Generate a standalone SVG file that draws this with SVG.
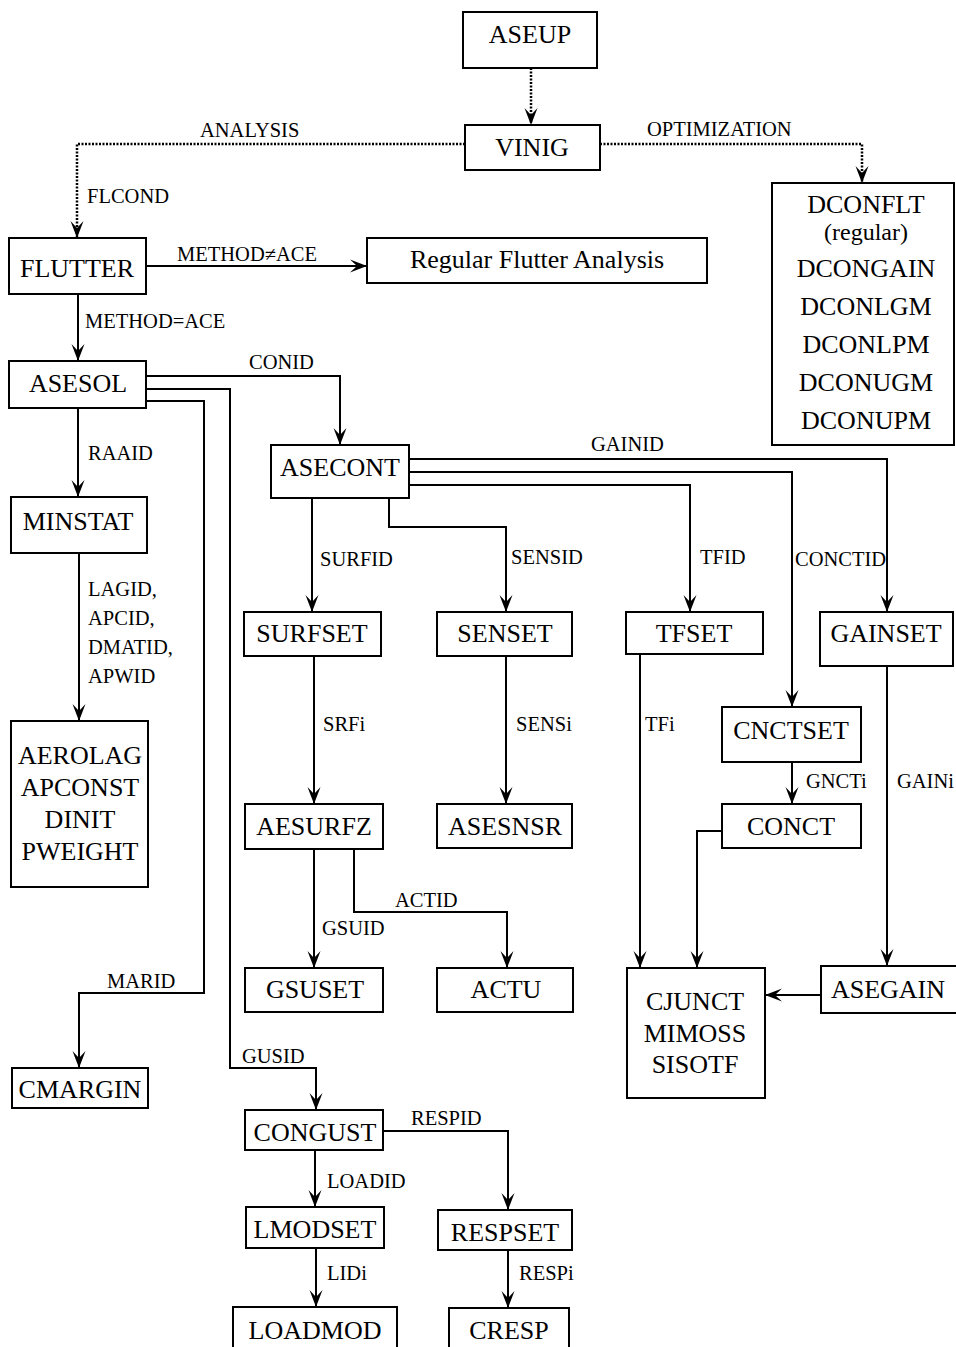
<svg xmlns="http://www.w3.org/2000/svg" width="956" height="1347" viewBox="0 0 956 1347">
<style>
.box{fill:#fff;stroke:#000;stroke-width:2}
.n{font-family:"Liberation Serif",serif;font-size:26px;fill:#000;text-anchor:middle}
.l{font-family:"Liberation Serif",serif;font-size:20.5px;fill:#000}
.c{fill:none;stroke:#000;stroke-width:2;marker-end:url(#ah)}
.d{fill:none;stroke:#000;stroke-width:2.5;stroke-dasharray:2 1.5;marker-end:url(#ah)}
</style>
<defs>
<marker id="ah" viewBox="-18 -8 20 16" refX="0" refY="0" markerWidth="20" markerHeight="16" markerUnits="userSpaceOnUse" orient="auto">
<path d="M0,0 L-17,-6.5 L-10,0 L-17,6.5 Z" fill="#000"/>
</marker>
</defs>
<rect width="956" height="1347" fill="#fff"/>
<g id="connectors">
<path class="d" d="M531,68 V125"/>
<path class="d" d="M465,144 H77 V238"/>
<path class="d" d="M600,144 H862 V183"/>
<path class="c" d="M146,266 H367"/>
<path class="c" d="M78,294 V361"/>
<path class="c" d="M146,376 H340 V445"/>
<path class="c" d="M146,389 H230 V1068 H316 V1110"/>
<path class="c" d="M146,401 H204 V993 H79 V1068"/>
<path class="c" d="M78,408 V497"/>
<path class="c" d="M79,553 V721"/>
<path class="c" d="M409,459 H887 V612"/>
<path class="c" d="M409,472 H792 V707"/>
<path class="c" d="M409,485 H690 V612"/>
<path class="c" d="M312,498 V612"/>
<path class="c" d="M389,498 V527 H506 V612"/>
<path class="c" d="M314,656 V804"/>
<path class="c" d="M506,656 V804"/>
<path class="c" d="M640,654 V968"/>
<path class="c" d="M792,762 V804"/>
<path class="c" d="M722,831 H697 V968"/>
<path class="c" d="M887,666 V966"/>
<path class="c" d="M821,995 H765"/>
<path class="c" d="M314,849 V968"/>
<path class="c" d="M354,849 V912 H507 V968"/>
<path class="c" d="M315,1150 V1207"/>
<path class="c" d="M383,1131 H508 V1210"/>
<path class="c" d="M316,1248 V1307"/>
<path class="c" d="M508,1250 V1308"/>
</g>
<g id="labels">
<text class="l" x="200" y="137">ANALYSIS</text>
<text class="l" x="647" y="136">OPTIMIZATION</text>
<text class="l" x="87" y="203">FLCOND</text>
<text class="l" x="177" y="261">METHOD≠ACE</text>
<text class="l" x="85" y="328">METHOD=ACE</text>
<text class="l" x="249" y="369">CONID</text>
<text class="l" x="88" y="460">RAAID</text>
<text class="l" x="591" y="451">GAINID</text>
<text class="l" x="320" y="566">SURFID</text>
<text class="l" x="511" y="564">SENSID</text>
<text class="l" x="700" y="564">TFID</text>
<text class="l" x="795" y="566">CONCTID</text>
<text class="l" x="88" y="596">LAGID,</text>
<text class="l" x="88" y="625">APCID,</text>
<text class="l" x="88" y="654">DMATID,</text>
<text class="l" x="88" y="683">APWID</text>
<text class="l" x="323" y="731">SRFi</text>
<text class="l" x="516" y="731">SENSi</text>
<text class="l" x="645" y="731">TFi</text>
<text class="l" x="806" y="788">GNCTi</text>
<text class="l" x="897" y="788">GAINi</text>
<text class="l" x="395" y="907">ACTID</text>
<text class="l" x="322" y="935">GSUID</text>
<text class="l" x="107" y="988">MARID</text>
<text class="l" x="242" y="1063">GUSID</text>
<text class="l" x="411" y="1125">RESPID</text>
<text class="l" x="327" y="1188">LOADID</text>
<text class="l" x="327" y="1280">LIDi</text>
<text class="l" x="519" y="1280">RESPi</text>
</g>
<g id="ASEUP"><rect class="box" x="463" y="12" width="134" height="56"/><text class="n" x="530" y="43">ASEUP</text></g>
<g id="VINIG"><rect class="box" x="465" y="125" width="135" height="45"/><text class="n" x="532" y="156">VINIG</text></g>
<g id="FLUTTER"><rect class="box" x="9" y="238" width="137" height="56"/><text class="n" x="77" y="277">FLUTTER</text></g>
<g id="REGULAR"><rect class="box" x="367" y="238" width="340" height="45"/><text class="n" x="537" y="268">Regular Flutter Analysis</text></g>
<g id="DCON"><rect class="box" x="772" y="183" width="182" height="262"/>
<text class="n" x="866" y="213">DCONFLT</text>
<text class="n" x="866" y="240" style="font-size:24px">(regular)</text>
<text class="n" x="866" y="277">DCONGAIN</text>
<text class="n" x="866" y="315">DCONLGM</text>
<text class="n" x="866" y="353">DCONLPM</text>
<text class="n" x="866" y="391">DCONUGM</text>
<text class="n" x="866" y="429">DCONUPM</text></g>
<g id="ASESOL"><rect class="box" x="9" y="361" width="137" height="47"/><text class="n" x="78" y="392">ASESOL</text></g>
<g id="MINSTAT"><rect class="box" x="11" y="497" width="136" height="56"/><text class="n" x="78" y="530">MINSTAT</text></g>
<g id="AEROLAG"><rect class="box" x="11" y="721" width="137" height="166"/>
<text class="n" x="80" y="764">AEROLAG</text>
<text class="n" x="80" y="796">APCONST</text>
<text class="n" x="80" y="828">DINIT</text>
<text class="n" x="80" y="860">PWEIGHT</text></g>
<g id="ASECONT"><rect class="box" x="271" y="445" width="138" height="53"/><text class="n" x="340" y="476">ASECONT</text></g>
<g id="SURFSET"><rect class="box" x="244" y="612" width="137" height="44"/><text class="n" x="312" y="642">SURFSET</text></g>
<g id="SENSET"><rect class="box" x="437" y="612" width="135" height="44"/><text class="n" x="505" y="642">SENSET</text></g>
<g id="TFSET"><rect class="box" x="626" y="612" width="137" height="42"/><text class="n" x="694" y="642">TFSET</text></g>
<g id="GAINSET"><rect class="box" x="820" y="612" width="133" height="54"/><text class="n" x="886" y="642">GAINSET</text></g>
<g id="CNCTSET"><rect class="box" x="722" y="707" width="139" height="55"/><text class="n" x="791" y="739">CNCTSET</text></g>
<g id="CONCT"><rect class="box" x="722" y="804" width="139" height="44"/><text class="n" x="791" y="835">CONCT</text></g>
<g id="AESURFZ"><rect class="box" x="245" y="804" width="138" height="45"/><text class="n" x="314" y="835">AESURFZ</text></g>
<g id="ASESNSR"><rect class="box" x="437" y="804" width="135" height="44"/><text class="n" x="505" y="835">ASESNSR</text></g>
<g id="GSUSET"><rect class="box" x="245" y="968" width="138" height="44"/><text class="n" x="315" y="998">GSUSET</text></g>
<g id="ACTU"><rect class="box" x="437" y="968" width="136" height="44"/><text class="n" x="506" y="998">ACTU</text></g>
<g id="CJUNCT"><rect class="box" x="627" y="968" width="138" height="130"/>
<text class="n" x="695" y="1010">CJUNCT</text>
<text class="n" x="695" y="1042">MIMOSS</text>
<text class="n" x="695" y="1073">SISOTF</text></g>
<g id="ASEGAIN"><rect class="box" x="821" y="966" width="140" height="47"/><text class="n" x="888" y="998">ASEGAIN</text></g>
<g id="CMARGIN"><rect class="box" x="12" y="1068" width="136" height="40"/><text class="n" x="80" y="1098">CMARGIN</text></g>
<g id="CONGUST"><rect class="box" x="245" y="1110" width="138" height="40"/><text class="n" x="315" y="1141">CONGUST</text></g>
<g id="LMODSET"><rect class="box" x="246" y="1207" width="138" height="41"/><text class="n" x="315" y="1238">LMODSET</text></g>
<g id="RESPSET"><rect class="box" x="438" y="1210" width="134" height="40"/><text class="n" x="505" y="1241">RESPSET</text></g>
<g id="LOADMOD"><rect class="box" x="233" y="1307" width="164" height="45"/><text class="n" x="315" y="1339">LOADMOD</text></g>
<g id="CRESP"><rect class="box" x="449" y="1308" width="120" height="44"/><text class="n" x="509" y="1339">CRESP</text></g>
</svg>
